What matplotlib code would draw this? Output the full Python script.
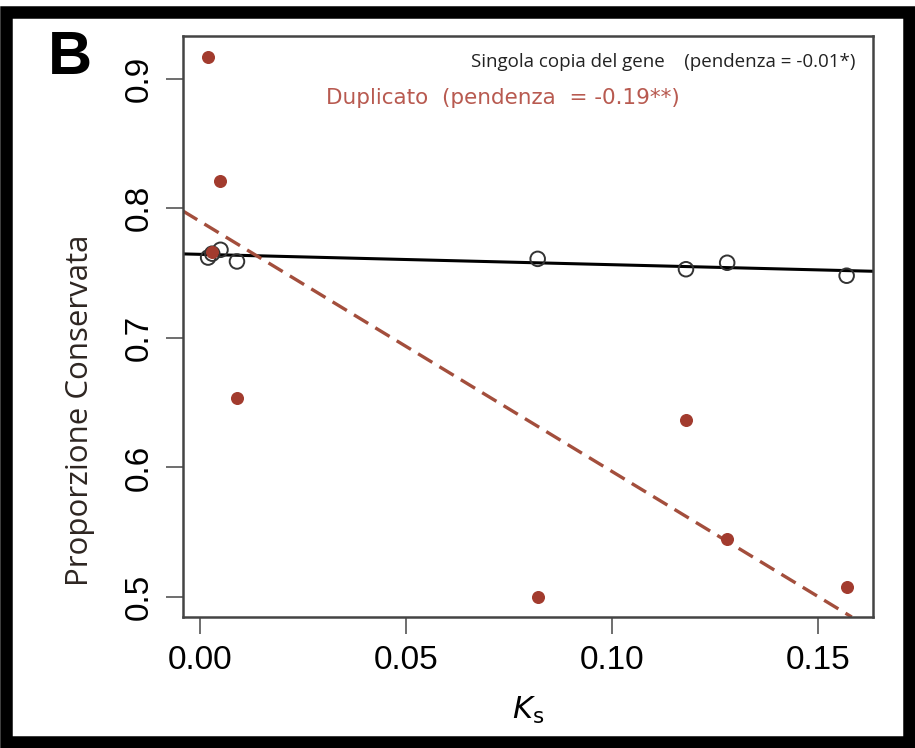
import matplotlib.pyplot as plt
from matplotlib.patches import Rectangle

# Ks values and conserved proportion
ks = [0.002, 0.003, 0.005, 0.009, 0.082, 0.118, 0.128, 0.157]
singola = [0.762, 0.765, 0.768, 0.759, 0.761, 0.753, 0.758, 0.748]
duplicato = [0.917, 0.766, 0.821, 0.654, 0.500, 0.637, 0.545, 0.508]

# regression lines (intercept, slope) as drawn
fit_singola = (0.7645, -0.08)
fit_duplicato = (0.790, -1.93)

xticks = [0.00, 0.05, 0.10, 0.15]
yticks = [0.5, 0.6, 0.7, 0.8, 0.9]

red = '#a23b2e'
plt.rcParams['font.family'] = ['Liberation Sans', 'DejaVu Sans']

fig = plt.figure(figsize=(9.15, 7.48), dpi=100)
ax = fig.add_axes([183 / 915, 1 - 617 / 748, (873 - 183) / 915, (617 - 36) / 748])

ax.axline((0, fit_singola[0]), slope=fit_singola[1], color='black', lw=2.2, zorder=2)
ax.axline((0, fit_duplicato[0]), slope=fit_duplicato[1], color='#a34e3c', lw=2.4,
          ls=(0, (5, 2.5)), zorder=2)
ax.scatter(ks, singola, s=110, facecolors='none', edgecolors='#333333', linewidths=1.4, zorder=3)
ax.scatter(ks, duplicato, s=70, color=red, zorder=4)

ax.set_xlim(-0.0041, 0.1634)
ax.set_ylim(0.4846, 0.933)
ax.set_xticks(xticks)
ax.set_xticklabels([f'{t:.2f}' for t in xticks], fontsize=24)
ax.set_yticks(yticks)
ax.set_yticklabels([f'{t:.1f}' for t in yticks], fontsize=24, rotation=90, va='center')
ax.tick_params(length=12, width=1.2, color='#555555', pad=8)
for sp in ax.spines.values():
    sp.set_linewidth(1.8)
    sp.set_color('#444444')

ax.set_xlabel(r'$K_{\mathrm{s}}$', fontsize=22, labelpad=14)
fig.text(80 / 915, 1 - 410 / 748, 'Proporzione Conservata', rotation=90, ha='center', va='center',
         fontsize=22.5, family=['Open Sans', 'DejaVu Sans'], color='#2e2622')

ax.text(0.975, 0.955, 'Singola copia del gene    (pendenza = -0.01*)', transform=ax.transAxes,
        ha='right', va='center', fontsize=13.5, family=['Open Sans', 'DejaVu Sans'], color='#222222')
ax.text(0.207, 0.893, 'Duplicato  (pendenza  = -0.19**)', transform=ax.transAxes,
        ha='left', va='center', fontsize=15.5, family=['DejaVu Sans'], color='#b85a50')

fig.text(70 / 915, 1 - 58 / 748, 'B', fontsize=44, fontweight='bold', ha='center', va='center')

fig.patches.append(Rectangle((6 / 915, 6 / 748), 903 / 915, 730 / 748, transform=fig.transFigure,
                             fill=False, lw=9, edgecolor='black'))

fig.savefig('out.png', dpi=100)
